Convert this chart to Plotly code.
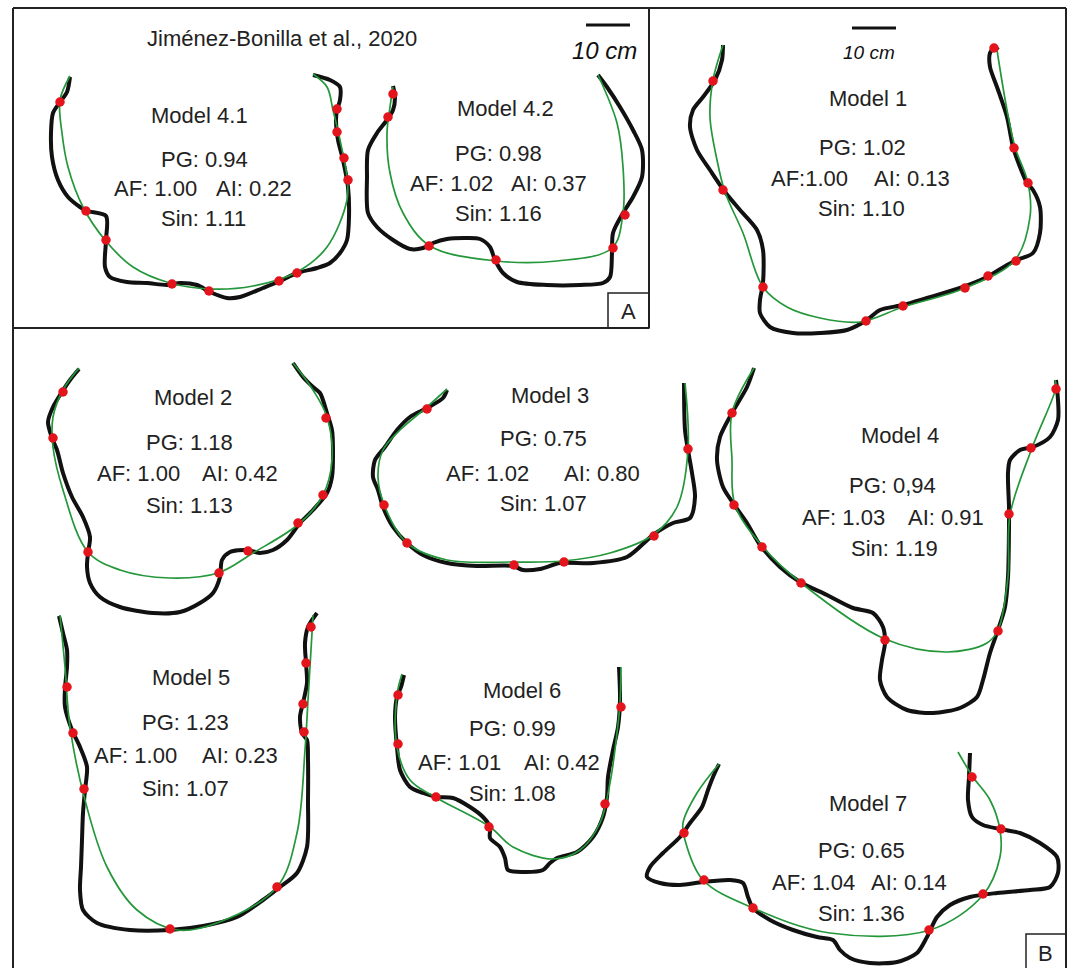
import plotly.graph_objects as go

# ---------------- data (profile coordinates, picture units) ----------------
m41_outline = [(70,77),(67,92),(60,102),(53,113),(51,133),(52,157),(58,180),(68,197),(80,207),(87,211),(106,216),
               (106,240),(105,267),(110,277),(127,282),(147,283),(167,285),(180,283),(197,285),(210,292),(227,298),
               (240,297),(263,288),(280,281),(297,273),(317,268),(330,263),(340,253),(347,240),(349,217),(348,187),
               (343,160),(338,140),(336,120),(337,110),(340,100),(340,87),(330,80),(313,75)]
m41_fit = [(70,76),(60,100),(62,133),(68,167),(83,207),(105,240),(133,267),(170,283),(210,289),(253,286),(297,272),
           (327,247),(347,200),(347,177),(340,140),(333,110),(327,87),(313,74)]
m41_pts = [(60,102),(86,211),(106,240),(172,284),(209,291),(279,281),(297,273),(348,180),(344,158),(337,132),(337,109)]

m42_outline = [(393,86),(395,97),(393,110),(387,120),(377,133),(368,150),(367,177),(368,213),(377,227),(393,240),
               (410,249),(423,248),(433,243),(447,239),(467,238),(480,239),(490,247),(495,260),(503,273),(517,282),
               (547,285),(580,285),(603,283),(610,277),(612,253),(613,233),(623,213),(633,197),(642,177),(642,150),
               (633,130),(620,107),(607,87),(598,75)]
m42_fit = [(393,87),(390,107),(387,133),(390,173),(403,213),(430,246),(497,261),(557,261),(612,248),(623,213),
           (623,167),(617,123),(598,75)]
m42_pts = [(393,94),(388,117),(429,246),(496,260),(613,248),(625,215)]

m1_outline = [(723,45),(722,60),(715,80),(703,97),(693,110),(690,127),(697,150),(710,170),(725,192),(740,210),
              (757,230),(763,250),(763,283),(760,300),(760,313),(770,327),(793,333),(820,333),(847,330),(867,320),
              (880,310),(903,305),(927,298),(960,288),(987,277),(1007,265),(1017,260),(1033,253),(1040,233),
              (1040,207),(1033,190),(1027,183),(1020,167),(1013,147),(1007,117),(997,87),(990,67),(990,53),
              (995,47),(998,50)]
m1_fit = [(723,45),(713,80),(710,117),(717,160),(725,192),(743,233),(763,287),(787,307),(820,318),(860,322),
          (903,307),(965,288),(1015,260),(1030,217),(1028,183),(1015,147),(1007,110),(997,50)]
m1_pts = [(713,81),(723,190),(763,287),(866,321),(903,306),(965,288),(988,276),(1016,261),(1028,183),(1014,148),(994,48)]

m2_outline = [(79,369),(70,380),(62,392),(53,407),(48,422),(52,438),(57,450),(63,473),(72,497),(83,517),(90,537),
              (88,553),(87,567),(90,583),(100,597),(120,607),(153,613),(180,612),(200,603),(213,593),(220,577),
              (222,560),(230,552),(247,550),(260,553),(273,550),(287,540),(300,523),(313,510),(327,493),(332,477),
              (333,450),(332,430),(327,413),(320,393),(313,387),(303,377),(293,363)]
m2_fit = [(79,368),(63,390),(53,417),(53,447),(63,490),(88,552),(120,570),(170,578),(218,573),(253,553),(300,523),
          (323,495),(332,460),(327,417),(313,390),(293,363)]
m2_pts = [(63,392),(53,438),(88,552),(219,573),(248,551),(298,523),(323,495),(326,418)]

m3_outline = [(447,390),(443,398),(427,408),(410,417),(397,430),(385,447),(375,460),(373,477),(378,490),(383,507),
              (393,527),(407,543),(423,555),(447,563),(477,566),(513,566),(523,570),(540,569),(560,563),(593,563),
              (627,557),(653,535),(673,523),(690,518),(695,497),(692,473),(688,450),(685,430),(684,383)]
m3_fit = [(447,389),(427,407),(400,430),(383,450),(378,477),(385,507),(407,543),(447,560),(513,562),(563,561),
          (610,553),(653,535),(677,507),(688,450),(685,383)]
m3_pts = [(427,409),(384,505),(407,543),(514,565),(564,562),(654,536),(688,449)]

m4_outline = [(754,368),(747,387),(732,413),(720,437),(717,460),(723,487),(733,503),(747,523),(760,545),(780,567),
              (800,582),(827,595),(853,608),(873,613),(883,627),(885,643),(882,660),(880,680),(887,697),(907,710),
              (933,713),(960,708),(977,697),(983,680),(990,653),(998,630),(1005,607),(1008,577),(1009,527),
              (1009,507),(1008,473),(1010,460),(1020,450),(1033,447),(1050,437),(1058,420),(1058,400),(1056,380)]
m4_fit = [(754,368),(732,413),(732,460),(735,505),(763,547),(800,582),(885,639),(947,652),(987,643),(998,630),
          (1008,577),(1010,515),(1032,448),(1056,387),(1055,380)]
m4_pts = [(732,413),(734,505),(762,547),(801,583),(885,640),(998,631),(1009,514),(1031,448),(1056,389)]

m5_outline = [(59,616),(63,633),(67,650),(67,667),(65,688),(65,707),(72,730),(80,747),(87,767),(85,790),(83,813),
              (82,840),(81,867),(80,890),(83,910),(97,923),(130,930),(170,930),(203,926),(237,917),(263,900),
              (280,887),(297,873),(307,847),(308,800),(308,760),(307,740),(302,733),(300,717),(303,703),(307,683),
              (306,663),(305,643),(308,627),(317,613)]
m5_fit = [(60,615),(65,667),(70,727),(85,800),(107,867),(137,910),(177,930),(217,923),(277,887),(297,833),
          (305,750),(308,700),(312,633),(313,615)]
m5_pts = [(67,687),(73,733),(84,789),(170,929),(277,887),(304,732),(303,704),(306,663),(311,627)]

m6_outline = [(404,675),(401,687),(397,697),(395,717),(397,747),(400,770),(410,787),(423,793),(437,797),(453,798),
              (470,807),(483,817),(490,827),(490,838),(500,847),(505,858),(508,870),(523,872),(543,870),(550,863),
              (557,858),(577,852),(593,837),(603,817),(607,797),(608,777),(613,750),(618,727),(620,700),(619,667)]
m6_fit = [(402,674),(397,695),(397,747),(410,780),(435,797),(490,827),(513,847),(553,859),(580,850),(600,823),
          (610,783),(617,733),(620,703),(621,667)]
m6_pts = [(398,695),(398,744),(436,797),(489,827),(605,804),(621,707)]

m7_outline = [(719,764),(713,777),(708,790),(702,807),(690,823),(680,837),(663,853),(650,867),(647,877),(660,883),
              (680,885),(703,882),(730,880),(743,883),(748,897),(753,908),(770,920),(793,930),(817,937),(833,940),
              (840,950),(850,958),(870,963),(897,962),(917,953),(927,937),(937,917),(950,905),(970,897),(997,893),
              (1030,890),(1050,887),(1058,873),(1057,857),(1040,843),(1020,833),(1000,829),(983,825),(972,817),
              (968,800),(969,777),(970,753)]
m7_fit = [(719,764),(697,793),(683,823),(685,840),(703,880),(753,908),(830,933),(930,930),(983,895),(1000,857),
          (1000,830),(990,800),(973,777),(958,752)]
m7_pts = [(684,833),(704,880),(753,908),(929,930),(983,894),(1001,829),(972,777)]

models = [m41_outline, m42_outline, m1_outline, m2_outline, m3_outline, m4_outline, m5_outline, m6_outline, m7_outline]
fits = [m41_fit, m42_fit, m1_fit, m2_fit, m3_fit, m4_fit, m5_fit, m6_fit, m7_fit]
points = [m41_pts, m42_pts, m1_pts, m2_pts, m3_pts, m4_pts, m5_pts, m6_pts, m7_pts]

# labels: (text, x, y)
model_names = [("Model 4.1",199,115),("Model 4.2",505,108),("Model 1",868,98),("Model 2",193,397),("Model 3",550,395),
               ("Model 4",900,435),("Model 5",191,677),("Model 6",522,690),("Model 7",868,803)]
pg_labels = [("PG: 0.94",204,159),("PG: 0.98",498,153),("PG: 1.02",862,147),("PG: 1.18",189,442),("PG: 0.75",543,438),
             ("PG: 0,94",892,485),("PG: 1.23",185,722),("PG: 0.99",512,728),("PG: 0.65",861,850)]
af_labels = [("AF: 1.00",155,188),("AF: 1.02",451,183),("AF:1.00",809,178),("AF: 1.00",138,473),("AF: 1.02",487,473),
             ("AF: 1.03",843,517),("AF: 1.00",135,755),("AF: 1.01",459,762),("AF: 1.04",813,882)]
ai_labels = [("AI: 0.22",254,188),("AI: 0.37",549,183),("AI: 0.13",912,178),("AI: 0.42",240,473),("AI: 0.80",602,473),
             ("AI: 0.91",946,517),("AI: 0.23",240,755),("AI: 0.42",562,762),("AI: 0.14",909,882)]
sin_labels = [("Sin: 1.11",203,218),("Sin: 1.16",498,213),("Sin: 1.10",861,208),("Sin: 1.13",189,505),("Sin: 1.07",543,503),
              ("Sin: 1.19",894,548),("Sin: 1.07",185,788),("Sin: 1.08",512,793),("Sin: 1.36",861,913)]

# ---------------- figure ----------------
FONT = "Liberation Sans, Arial, sans-serif"
BLACK = "#111111"
GREEN = "#23973a"
RED = "#e3141b"
W, H = 1070, 968

fig = go.Figure()
for outline, fit, pts in zip(models, fits, points):
    fig.add_trace(go.Scatter(x=[p[0] for p in outline], y=[p[1] for p in outline], mode="lines",
                             line=dict(color=BLACK, width=4, shape="spline", smoothing=0.8), hoverinfo="skip",
                             cliponaxis=False))
    fig.add_trace(go.Scatter(x=[p[0] for p in fit], y=[p[1] for p in fit], mode="lines",
                             line=dict(color=GREEN, width=1.7, shape="spline", smoothing=1.0), hoverinfo="skip",
                             cliponaxis=False))
    fig.add_trace(go.Scatter(x=[p[0] for p in pts], y=[p[1] for p in pts], mode="markers",
                             marker=dict(color=RED, size=9.5, line=dict(width=0)), hoverinfo="skip",
                             cliponaxis=False))

annotations = []
for group in (model_names, pg_labels, af_labels, ai_labels, sin_labels):
    for t, x, y in group:
        annotations.append(dict(x=x, y=y, text=t, showarrow=False, xanchor="center", yanchor="middle",
                                font=dict(family=FONT, size=22, color="#222222")))

annotations.append(dict(x=282, y=38, text="Jiménez-Bonilla et al., 2020", showarrow=False,
                        font=dict(family=FONT, size=22, color="#222222")))
annotations.append(dict(x=604, y=50, text="<i>10 cm</i>", showarrow=False,
                        font=dict(family=FONT, size=24, color="#111111")))
annotations.append(dict(x=869, y=52, text="<i>10 cm</i>", showarrow=False,
                        font=dict(family=FONT, size=19, color="#111111")))
annotations.append(dict(x=628.5, y=311, text="A", showarrow=False,
                        font=dict(family=FONT, size=22, color="#222222")))
annotations.append(dict(x=1045, y=953, text="B", showarrow=False,
                        font=dict(family=FONT, size=22, color="#222222")))

line_style = dict(color="#222222", width=2)
shapes = [
    dict(type="line", x0=13, y0=8, x1=1066, y1=8, line=line_style),
    dict(type="line", x0=13, y0=8, x1=13, y1=990, line=line_style),
    dict(type="line", x0=1066, y0=8, x1=1066, y1=990, line=line_style),
    dict(type="line", x0=13, y0=328, x1=649, y1=328, line=line_style),
    dict(type="line", x0=649, y0=8, x1=649, y1=328, line=line_style),
    dict(type="rect", x0=1026, y0=934, x1=1066, y1=990, line=dict(color="#222222", width=1.5)),
    dict(type="rect", x0=608, y0=293, x1=649, y1=328, line=dict(color="#222222", width=1.5)),
    dict(type="line", x0=586, y0=25, x1=630, y1=25, line=dict(color="#111111", width=3)),
    dict(type="line", x0=852, y0=28, x1=896, y1=28, line=dict(color="#111111", width=3)),
]

fig.update_layout(
    width=W, height=H, margin=dict(l=0, r=0, t=0, b=0, pad=0),
    paper_bgcolor="white", plot_bgcolor="white", showlegend=False,
    xaxis=dict(range=[0, W], visible=False, fixedrange=True),
    yaxis=dict(range=[H, 0], visible=False, fixedrange=True),
    annotations=annotations, shapes=shapes,
)

# remove the default page margin and scrollbars so the figure sits at the window's top-left corner
page_fix = ("document.body.style.margin='0px';"
            "document.body.style.overflow='hidden';"
            "document.documentElement.style.overflow='hidden';")
fig.write_html("out.html", post_script=page_fix, config={"displayModeBar": False, "staticPlot": True})
